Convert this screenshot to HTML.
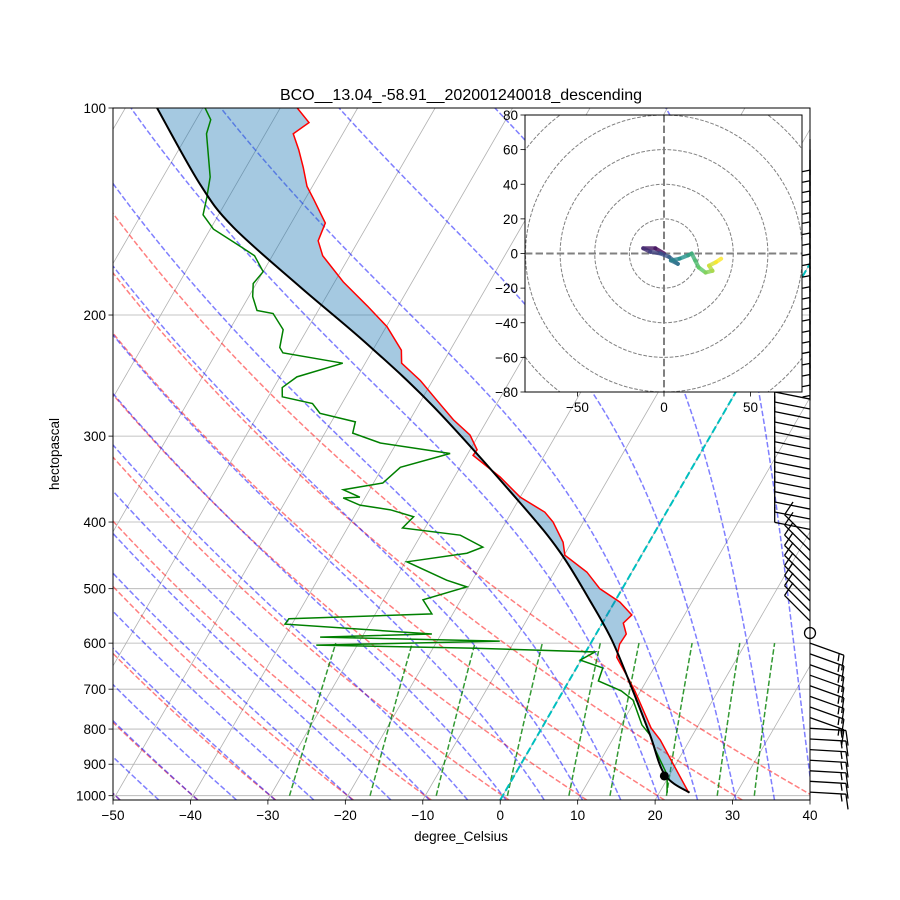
<!DOCTYPE html>
<html><head><meta charset="utf-8"><title>Skew-T BCO</title>
<style>
html,body{margin:0;padding:0;background:#fff;}
svg{display:block;font-family:"Liberation Sans","DejaVu Sans",sans-serif;}
</style></head>
<body>
<svg id="chart" width="900" height="900" viewBox="0 0 900 900" xmlns="http://www.w3.org/2000/svg">
<defs>
<clipPath id="plotclip"><rect x="113" y="108" width="697" height="692"/></clipPath>
<clipPath id="hodoclip"><rect x="525" y="115" width="277" height="277"/></clipPath>
</defs>
<rect x="0" y="0" width="900" height="900" fill="#fff"/>
<g id="grid" clip-path="url(#plotclip)"></g>
<g id="lines" clip-path="url(#plotclip)"></g>
<rect x="113" y="108" width="697" height="692" fill="none" stroke="#000" stroke-width="1"/>
<g id="axes"></g>
<g id="barbs"></g>
<g id="hodo"></g>
<text x="461" y="100" font-size="16" text-anchor="middle">BCO__13.04_-58.91__202001240018_descending</text>
<text x="461" y="841" font-size="13.5" text-anchor="middle">degree_Celsius</text>
<text x="59" y="454" font-size="13.5" text-anchor="middle" transform="rotate(-90 59 454)">hectopascal</text>
</svg>
<script>
const tempP=[990,890,830,797,705,674,629,602,582,561,546,523,500,473,447,428,400,387,368,344,320,314,299,284,266,249,235,225,208,194,179,164,156,147,136,130,122,115,109,105,100];
const tempT=[23.8,19.2,16.2,14.1,9.3,7.4,4.4,3.8,3.9,2.7,3.2,0.7,-2.9,-5.8,-9.9,-11.1,-13.9,-15.7,-20.0,-24.1,-29.2,-29.1,-31.1,-34.4,-38.0,-41.6,-45.3,-46.3,-49.9,-54.0,-58.9,-63.5,-65.2,-65.6,-68.8,-70.7,-72.6,-74.5,-76.4,-75.2,-77.8];
const dewP=[990,933,858,816,789,726,704,681,652,635,618,610,604,596,588,582,563,553,544,519,497,486,457,444,435,418,408,393,384,378,369,368,359,351,333,318,307,297,286,278,269,263,255,246,235,227,223,210,199,197,188,180,173,164,159,150,143,135,126,109,104,100];
const dewT=[21.0,19.7,16.3,14.5,12.7,9.7,7.5,3.8,3.4,-0.1,1.2,-15.2,-35.3,-11.9,-35.4,-21.2,-40.9,-40.8,-22.7,-24.9,-20.2,-23.3,-29.8,-22.7,-21.1,-24.9,-32.9,-32.3,-35.8,-40.1,-42.8,-40.7,-43.4,-38.8,-37.7,-32.3,-42.1,-46.4,-46.9,-52.1,-53.8,-58.2,-58.9,-57.8,-52.9,-61.4,-62.2,-63.1,-65.6,-67.9,-69.5,-70.4,-70.0,-72.3,-74.8,-79.6,-82.0,-82.8,-83.9,-87.6,-88.1,-89.7];
const parcelP=[990,933,816,704,594,519,442,375,272,220,182,149,129,100];
const parcelT=[23.9,19.4,14.5,9.0,2.5,-3.4,-10.8,-19.6,-37.9,-51.3,-64.1,-77.2,-84.7,-95.9];
const lclP=936, lclT=19.4;
const pTicks=[100,200,300,400,500,600,700,800,900,1000];
const tTicks=[-50,-40,-30,-20,-10,0,10,20,30,40];
const dryTheta=[-80,-70,-60,-50,-40,-30,-20,-10,0,10,20,30,40];
const moistT0=[-50,-45,-40,-35,-30,-25,-20,-15,-10,-5,0,5,10,15,20,25,30,35,40];
const mixW=[0.4,1,2,4,7,10,16,24,32];
const barbP=[111,115,119,123,128,132,137,142,147,152,158,164,170,176,183,190,197,204,212,220,228,236,265,274,283,293,303,313,324,335,346,358,370,383,396,410,425,440,455,471,487,504,521,539,557,580,600,622,645,668,692,717,743,770,798,827,857,888,920,953,988];
const barbU=[0,0,0,0,0,0,0,0,0,0,0,0,0,0,0,0,0,0,0,0,0,0,10,10,10,10,10,10,10,10,10,10,10,10,10,10,7,7,7,7,7,7,7,7,7,0,-14,-14,-14,-14,-14,-14,-14,-14,-17,-17,-17,-17,-17,-17,-17];
const barbV=[5,5,5,5,5,5,5,5,5,5,5,5,5,5,5,5,5,5,5,5,5,5,-2,-2,-2,-2,-2,-2,-2,-2,-2,-2,-2,-2,-2,-2,-7,-7,-7,-7,-7,-7,-7,-7,-7,0,5,5,5,5,5,5,5,5,1,1,1,1,1,1,1];
const hodoU=[0,-5,-12,-8,-2,3,8,4,9,14,16,18,20,24,28,26,30,33];
const hodoV=[0,3,3,1,0,-2,-6,-4,-3,-1,0,-4,-8,-11,-10,-7,-5,-3];
const hodoTicksX=[-50,0,50];
const hodoTicksY=[80,60,40,20,0,-20,-40,-60,-80];
const hodoRings=[20,40,60,80,100,120];

const NS='http://www.w3.org/2000/svg';
const X0=113,X1=810,Y0=108,Y1=800,DEC=687.7,SKEW=0.5774;
const pBot=100*Math.pow(10,(Y1-Y0)/DEC);
function yP(p){return Y0+DEC*Math.log10(p/100);}
function xT(T,p){return X0+(T+50)*(X1-X0)/90+SKEW*(Y1-yP(p));}
function mk(tag,attrs,parent){const e=document.createElementNS(NS,tag);for(const k in attrs)e.setAttribute(k,attrs[k]);parent.appendChild(e);return e;}
function pathFrom(ps,ts){return ps.map((p,i)=>(i?'L':'M')+xT(ts[i],p).toFixed(2)+','+yP(p).toFixed(2)).join('');}
function smoothFrom(ps,ts){
  const pts=ps.map((p,i)=>[xT(ts[i],p),yP(p)]);
  let d='M'+pts[0][0].toFixed(2)+','+pts[0][1].toFixed(2);
  for(let i=0;i<pts.length-1;i++){
    const p0=pts[Math.max(0,i-1)],p1=pts[i],p2=pts[i+1],p3=pts[Math.min(pts.length-1,i+2)];
    const c1=[p1[0]+(p2[0]-p0[0])/6,p1[1]+(p2[1]-p0[1])/6];
    const c2=[p2[0]-(p3[0]-p1[0])/6,p2[1]-(p3[1]-p1[1])/6];
    d+='C'+c1[0].toFixed(2)+','+c1[1].toFixed(2)+' '+c2[0].toFixed(2)+','+c2[1].toFixed(2)+' '+p2[0].toFixed(2)+','+p2[1].toFixed(2);
  }
  return d;
}
function fmt(v){return v<0?'\u2212'+Math.abs(v):String(v);}
const grid=document.getElementById('grid'),lines=document.getElementById('lines'),axes=document.getElementById('axes');

for(let T=-120;T<=40;T+=10){
  const l=mk('line',{x1:xT(T,pBot),y1:Y1,x2:xT(T,100),y2:Y0,stroke:'#b0b0b0','stroke-width':0.8},grid);
  
  
}
pTicks.forEach(p=>{
  const l=mk('line',{x1:X0,x2:X1,y1:yP(p),y2:yP(p),stroke:'#b0b0b0','stroke-width':0.8},grid);
  
  
});
const pSamp=[];for(let i=0;i<=60;i++){pSamp.push(pBot*Math.pow(100/pBot,i/60));}
dryTheta.forEach(th=>{
  const ts=pSamp.map(p=>(th+273.15)*Math.pow(p/1000,0.2857)-273.15);
  const e=mk('path',{d:pathFrom(pSamp,ts),fill:'none',stroke:'#ff0000','stroke-opacity':0.5,'stroke-width':1.5,'stroke-dasharray':'5.5,2.4'},grid);
  
  
});
function es(Tc){return 6.112*Math.exp(17.67*Tc/(Tc+243.5));}
function dTdp(T,p){const Tc=T-273.15;const e=es(Tc);const rs=0.622*e/(p-e);
  return (287.04*T+2.501e6*rs)/(p*(1005.7+2.501e6*2.501e6*rs*0.622/(287.04*T*T)));}
function moist(t0){
  const up=[],down=[];let T=t0+273.15,p=1000;const n=120;up.push([p,T]);
  for(let i=0;i<n;i++){const p2=1000*Math.pow(0.1,(i+1)/n);const dp=p2-p;
    const k1=dTdp(T,p);const k2=dTdp(T+k1*dp,p2);T+=0.5*(k1+k2)*dp;p=p2;up.push([p,T]);}
  T=t0+273.15;p=1000;const p2=pBot;const dp=p2-p;const k1=dTdp(T,p);const k2=dTdp(T+k1*dp,p2);
  down.push([p2,T+0.5*(k1+k2)*dp]);
  return down.concat(up);
}
moistT0.forEach(t0=>{
  const pts=moist(t0);
  const e=mk('path',{d:pathFrom(pts.map(a=>a[0]),pts.map(a=>a[1]-273.15)),fill:'none',stroke:'#0000ff','stroke-opacity':0.5,'stroke-width':1.5,'stroke-dasharray':'5.5,2.4'},grid);
  
  
});
const pMix=[];for(let i=0;i<=20;i++){pMix.push(1000*Math.pow(0.6,i/20));}
mixW.forEach(w=>{
  const ts=pMix.map(p=>{const e=(w/1000)*p/(0.622+w/1000);const l=Math.log(e/6.112);return 243.5*l/(17.67-l);});
  const e=mk('path',{d:pathFrom(pMix,ts),fill:'none',stroke:'#008000','stroke-opacity':0.8,'stroke-width':1.5,'stroke-dasharray':'5.5,2.4'},grid);
  
  
});
const zi=mk('line',{x1:xT(0,pBot),y1:Y1,x2:xT(0,100),y2:Y0,stroke:'#00bfbf','stroke-width':2,'stroke-dasharray':'7.4,3.2'},grid);



const parcelPath=smoothFrom(parcelP,parcelT);
const revP=parcelP.slice().reverse(),revT=parcelT.slice().reverse();
const shade=mk('path',{d:pathFrom(tempP,tempT)+smoothFrom(revP,revT).replace('M','L')+'Z',fill:'#1f77b4','fill-opacity':0.4,stroke:'none'},lines);


const tl=mk('path',{d:pathFrom(tempP,tempT),fill:'none',stroke:'#ff0000','stroke-width':1.5},lines);


const dl=mk('path',{d:pathFrom(dewP,dewT),fill:'none',stroke:'#008000','stroke-width':1.5},lines);


const pl=mk('path',{d:parcelPath,fill:'none',stroke:'#000','stroke-width':2},lines);


const lc=mk('circle',{cx:xT(lclT,lclP),cy:yP(lclP),r:4.5,fill:'#000'},lines);



pTicks.forEach(p=>{
  const y=yP(p);
  const t=mk('line',{x1:X0-4.5,x2:X0,y1:y,y2:y,stroke:'#000','stroke-width':0.8},axes);
  
  
  const tx=mk('text',{x:X0-7,y:y+5,'font-size':13.5,'text-anchor':'end'},axes);
  tx.textContent=p;
  
  
});
tTicks.forEach(T=>{
  const x=X0+(T+50)*(X1-X0)/90;
  const t=mk('line',{x1:x,x2:x,y1:Y1,y2:Y1+4.5,stroke:'#000','stroke-width':0.8},axes);
  
  
  const tx=mk('text',{x:x,y:Y1+20,'font-size':13.5,'text-anchor':'middle'},axes);
  tx.textContent=fmt(T);
  
  
});

const barbs=document.getElementById('barbs');
barbP.forEach((p,i)=>{
  const u=barbU[i],v=barbV[i];const bx=X1,by=yP(p);
  const s=Math.hypot(u,v);
  if(s<0.5){
    const c=mk('circle',{cx:bx,cy:by,r:5.5,fill:'none',stroke:'#000','stroke-width':1.3},barbs);
    
    
    return;
  }
  const dx=-u/s,dy=v/s;const L=36;const px=-dy,py=dx;
  const tx=bx+dx*L,ty=by+dy*L;
  let d='M'+bx+','+by+'L'+tx.toFixed(2)+','+ty.toFixed(2);
  let r=Math.round(s/5)*5;let k=0;
  while(r>=10){const sx=tx-dx*k*5,sy=ty-dy*k*5;d+='M'+sx.toFixed(2)+','+sy.toFixed(2)+'l'+(px*15+dx*3).toFixed(2)+','+(py*15+dy*3).toFixed(2);r-=10;k++;}
  if(r>=5){if(k===0)k=1;const sx=tx-dx*k*5,sy=ty-dy*k*5;d+='M'+sx.toFixed(2)+','+sy.toFixed(2)+'l'+(px*7.5+dx*1.5).toFixed(2)+','+(py*7.5+dy*1.5).toFixed(2);}
  const b=mk('path',{d:d,fill:'none',stroke:'#000','stroke-width':1.3},barbs);
  
  
});

const hodo=document.getElementById('hodo');
const HX0=525,HY0=115,HW=277,HC=664,HCY=253.5,HS=277/160;
function hx(u){return HC+u*HS;}function hy(v){return HCY-v*HS;}
const hbg=mk('rect',{x:HX0,y:HY0,width:HW,height:HW,fill:'#fff',stroke:'none'},hodo);


const hg=mk('g',{'clip-path':'url(#hodoclip)'},hodo);
hodoRings.forEach(r=>{
  const c=mk('circle',{cx:hx(0),cy:hy(0),r:r*HS,fill:'none',stroke:'#808080','stroke-width':1,'stroke-dasharray':'3.7,1.6'},hg);
  
  
});
const ha1=mk('line',{x1:HX0,x2:HX0+HW,y1:hy(0),y2:hy(0),stroke:'#808080','stroke-width':2,'stroke-dasharray':'7.4,3.2'},hg);


const ha2=mk('line',{x1:hx(0),x2:hx(0),y1:HY0,y2:HY0+HW,stroke:'#808080','stroke-width':2,'stroke-dasharray':'7.4,3.2'},hg);


const vir=[[68,1,84],[59,82,139],[33,145,140],[94,201,98],[253,231,37]];
function viridis(t){const f=t*(vir.length-1);const i=Math.min(vir.length-2,Math.floor(f));const a=f-i;
  const c=vir[i].map((v,j)=>Math.round(v+(vir[i+1][j]-v)*a));return 'rgb('+c.join(',')+')';}
for(let i=0;i<hodoU.length-1;i++){
  const s=mk('line',{x1:hx(hodoU[i]),y1:hy(hodoV[i]),x2:hx(hodoU[i+1]),y2:hy(hodoV[i+1]),stroke:viridis(i/(hodoU.length-2)),'stroke-width':4,'stroke-linecap':'round','stroke-opacity':0.8},hg);
  
  
}
const hf=mk('rect',{x:HX0,y:HY0,width:HW,height:HW,fill:'none',stroke:'#000','stroke-width':1},hodo);


hodoTicksX.forEach(u=>{
  const t=mk('line',{x1:hx(u),x2:hx(u),y1:HY0+HW,y2:HY0+HW+4.5,stroke:'#000','stroke-width':0.8},hodo);
  
  
  const tx=mk('text',{x:hx(u),y:HY0+HW+20,'font-size':13.5,'text-anchor':'middle'},hodo);
  tx.textContent=fmt(u);
  
  
});
hodoTicksY.forEach(v=>{
  const t=mk('line',{x1:HX0-4.5,x2:HX0,y1:hy(v),y2:hy(v),stroke:'#000','stroke-width':0.8},hodo);
  
  
  const tx=mk('text',{x:HX0-7,y:hy(v)+5,'font-size':13.5,'text-anchor':'end'},hodo);
  tx.textContent=fmt(v);
  
  
});
</script>
</body></html>
